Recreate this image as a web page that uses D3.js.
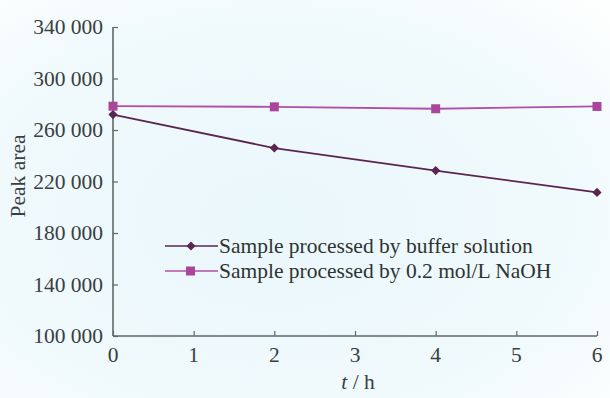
<!DOCTYPE html>
<html><head><meta charset="utf-8">
<script src="https://cdn.jsdelivr.net/npm/d3@7"></script>
<style>html,body{margin:0;padding:0;background:#fff;}svg{display:block;}</style>
</head><body>
<svg id="c" width="610" height="398"></svg>
<script>
const hours = [0, 2, 4, 6];
const bufferValues = [272000, 246000, 228500, 211500];
const naohValues = [278500, 278000, 276500, 278300];
const xTicks = [0, 1, 2, 3, 4, 5, 6];
const yTicks = [100000, 140000, 180000, 220000, 260000, 300000, 340000];
const seriesNames = ["Sample processed by buffer solution", "Sample processed by 0.2 mol/L NaOH"];

const svg = d3.select("#c");
const defs = svg.append("defs");
const g = defs.append("radialGradient").attr("id","bg").attr("cx","45%").attr("cy","55%").attr("r","75%");
g.append("stop").attr("offset","0%").attr("stop-color","#eaf7fb");
g.append("stop").attr("offset","70%").attr("stop-color","#f1fafd");
g.append("stop").attr("offset","100%").attr("stop-color","#fdfefe");
svg.append("rect").attr("width",610).attr("height",398).attr("fill","url(#bg)");

const x = d3.scaleLinear().domain([0,6]).range([113,597]);
const y = d3.scaleLinear().domain([100000,340000]).range([336,27]);
const axisColor = "#5d6a66";
const font = "'Liberation Serif', 'Times New Roman', serif";
const fs = 21.5;
const fmt = d => d3.format(",")(d).replace(/,/g, " ");

// y axis
const ya = svg.append("g").attr("transform","translate(113,0)")
  .call(d3.axisRight(y).tickValues(yTicks).tickSize(5).tickFormat(""));
ya.select(".domain").attr("stroke",axisColor).attr("stroke-width",1.6).attr("d","M0,27V336");
ya.selectAll(".tick line").attr("stroke",axisColor).attr("stroke-width",1.2);
svg.append("g").selectAll("text").data(yTicks).join("text")
  .attr("x",103).attr("y",d=>y(d)).attr("dy","0.33em").attr("text-anchor","end")
  .attr("font-family",font).attr("font-size",fs).attr("fill","#3a403e").text(fmt);

// x axis
const xa = svg.append("g").attr("transform","translate(0,336)")
  .call(d3.axisTop(x).tickValues(xTicks).tickSize(5).tickFormat(""));
xa.select(".domain").attr("stroke",axisColor).attr("stroke-width",1.6).attr("d","M113,0H597");
xa.selectAll(".tick line").attr("stroke",axisColor).attr("stroke-width",1.2);
svg.append("g").selectAll("text").data(xTicks).join("text")
  .attr("x",d=>x(d)).attr("y",362).attr("text-anchor","middle")
  .attr("font-family",font).attr("font-size",fs).attr("fill","#3a403e").text(d=>d);

// axis titles
const xl = svg.append("text").attr("x",358).attr("y",389).attr("text-anchor","middle")
  .attr("font-family",font).attr("font-size",fs).attr("fill","#3a403e");
xl.append("tspan").attr("font-style","italic").text("t");
xl.append("tspan").text(" / h");
svg.append("text").attr("transform","translate(25,176) rotate(-90)").attr("text-anchor","middle")
  .attr("font-family",font).attr("font-size",fs).attr("fill","#3a403e").text("Peak area");

const colBuf = "#5a2650", colNa = "#b24fa6";
const line = d3.line().x((d,i)=>x(hours[i])).y(d=>y(d));
svg.append("path").attr("d",line(bufferValues)).attr("fill","none").attr("stroke",colBuf).attr("stroke-width",1.8);
svg.append("path").attr("d",line(naohValues)).attr("fill","none").attr("stroke",colNa).attr("stroke-width",1.8);
svg.append("g").selectAll("path").data(bufferValues).join("path")
  .attr("transform",(d,i)=>`translate(${x(hours[i])},${y(d)}) rotate(45)`).attr("d",d3.symbol().type(d3.symbolSquare).size(42)).attr("fill",colBuf);
svg.append("g").selectAll("rect").data(naohValues).join("rect")
  .attr("x",(d,i)=>x(hours[i])-4.5).attr("y",d=>y(d)-4.5).attr("width",9).attr("height",9).attr("fill","#a9469c");

// legend
const leg = [{c:colBuf, t:seriesNames[0], y:246, m:"d"},{c:colNa, t:seriesNames[1], y:271, m:"s"}];
leg.forEach(l=>{
  svg.append("line").attr("x1",165).attr("x2",218).attr("y1",l.y).attr("y2",l.y).attr("stroke",l.c).attr("stroke-width",1.5);
  if(l.m==="d") svg.append("path").attr("transform",`translate(191,${l.y}) rotate(45)`).attr("d",d3.symbol().type(d3.symbolSquare).size(42)).attr("fill",l.c);
  else svg.append("rect").attr("x",186).attr("y",l.y-4.5).attr("width",9).attr("height",9).attr("fill","#a9469c");
  svg.append("text").attr("x",219).attr("y",l.y).attr("dy","0.33em").attr("font-family",font).attr("font-size",fs).attr("fill","#2e3432").text(l.t);
});
</script>
</body></html>
